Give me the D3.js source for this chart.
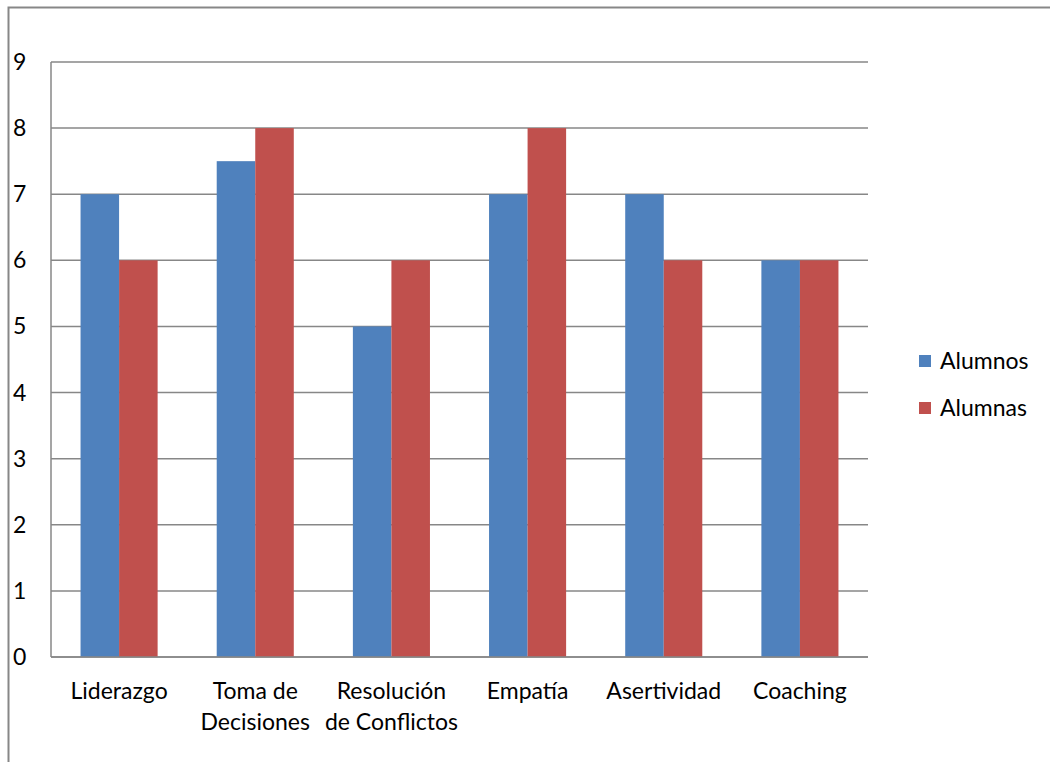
<!DOCTYPE html>
<html>
<head>
<meta charset="utf-8">
<script src="https://cdn.jsdelivr.net/npm/d3@7"></script>
<style>
  html, body { margin: 0; padding: 0; background: #fff; }
  svg { display: block; font-family: Lato, "Open Sans", "Noto Sans", sans-serif; }
</style>
</head>
<body>
<svg id="chart" width="1050" height="762"></svg>
<script>
const categories = [["Liderazgo"], ["Toma de", "Decisiones"], ["Resolución", "de Conflictos"], ["Empatía"], ["Asertividad"], ["Coaching"]];
const seriesNames = ["Alumnos", "Alumnas"];
const alumnos = [7, 7.5, 5, 7, 7, 6];
const alumnas = [6, 8, 6, 8, 6, 6];
const yTicks = [0, 1, 2, 3, 4, 5, 6, 7, 8, 9];
const colors = ["#4F81BD", "#C0504D"];

const svg = d3.select("#chart");
const plot = { left: 51, right: 868, top: 62, bottom: 657 };
const fontSize = 23;

// Outer chart frame (extends past the bottom and right edges)
svg.append("path")
  .attr("d", `M8.5,770 L8.5,7.5 L1060,7.5`)
  .attr("fill", "none").attr("stroke", "#878787").attr("stroke-width", 2);

const x0 = d3.scaleBand().domain(d3.range(categories.length))
  .range([plot.left, plot.right]).paddingInner(0.434).paddingOuter(0.217);
const x1 = d3.scaleBand().domain(seriesNames).range([0, x0.bandwidth()]);
const y = d3.scaleLinear().domain([0, 9]).range([plot.bottom, plot.top]);

// Horizontal gridlines
svg.append("g").selectAll("line").data(yTicks).join("line")
  .attr("x1", plot.left).attr("x2", plot.right)
  .attr("y1", d => y(d)).attr("y2", d => y(d))
  .attr("stroke", "#878787").attr("stroke-width", 1.5);

// Value axis line
svg.append("line")
  .attr("x1", plot.left).attr("x2", plot.left)
  .attr("y1", plot.top).attr("y2", plot.bottom)
  .attr("stroke", "#878787").attr("stroke-width", 1.5);

// Bars
const rows = categories.map((c, i) => ({ i, values: [alumnos[i], alumnas[i]] }));
svg.append("g").selectAll("g").data(rows).join("g")
  .attr("transform", d => `translate(${x0(d.i)},0)`)
  .selectAll("rect").data(d => d.values.map((v, k) => ({ v, k })))
  .join("rect")
  .attr("x", d => x1(seriesNames[d.k]))
  .attr("width", x1.bandwidth())
  .attr("y", d => y(d.v))
  .attr("height", d => y(0) - y(d.v))
  .attr("fill", d => colors[d.k]);

// Redraw baseline on top of bars
svg.append("line")
  .attr("x1", plot.left).attr("x2", plot.right)
  .attr("y1", y(0)).attr("y2", y(0))
  .attr("stroke", "#878787").attr("stroke-width", 1.5);

// Y tick labels
svg.append("g").selectAll("text").data(yTicks).join("text")
  .attr("x", 13).attr("y", d => y(d)).attr("dy", "0.35em")
  .attr("font-size", fontSize).attr("fill", "#000")
  .text(d => d);

// Category labels
const catG = svg.append("g").selectAll("text").data(categories).join("text")
  .attr("x", (d, i) => x0(i) + x0.bandwidth() / 2)
  .attr("y", 699)
  .attr("text-anchor", "middle")
  .attr("font-size", fontSize).attr("fill", "#000");
catG.selectAll("tspan").data(d => d).join("tspan")
  .attr("x", function () { return d3.select(this.parentNode).attr("x"); })
  .attr("dy", (d, i) => i === 0 ? 0 : 31)
  .text(d => d);

// Legend
const legend = svg.append("g").selectAll("g").data(seriesNames).join("g")
  .attr("transform", (d, i) => `translate(919,${355 + i * 47})`);
legend.append("rect").attr("width", 12).attr("height", 12).attr("fill", (d, i) => colors[i]);
legend.append("text").attr("x", 21).attr("y", 6).attr("dy", "0.35em")
  .attr("font-size", fontSize).attr("fill", "#000").text(d => d);
</script>
</body>
</html>
